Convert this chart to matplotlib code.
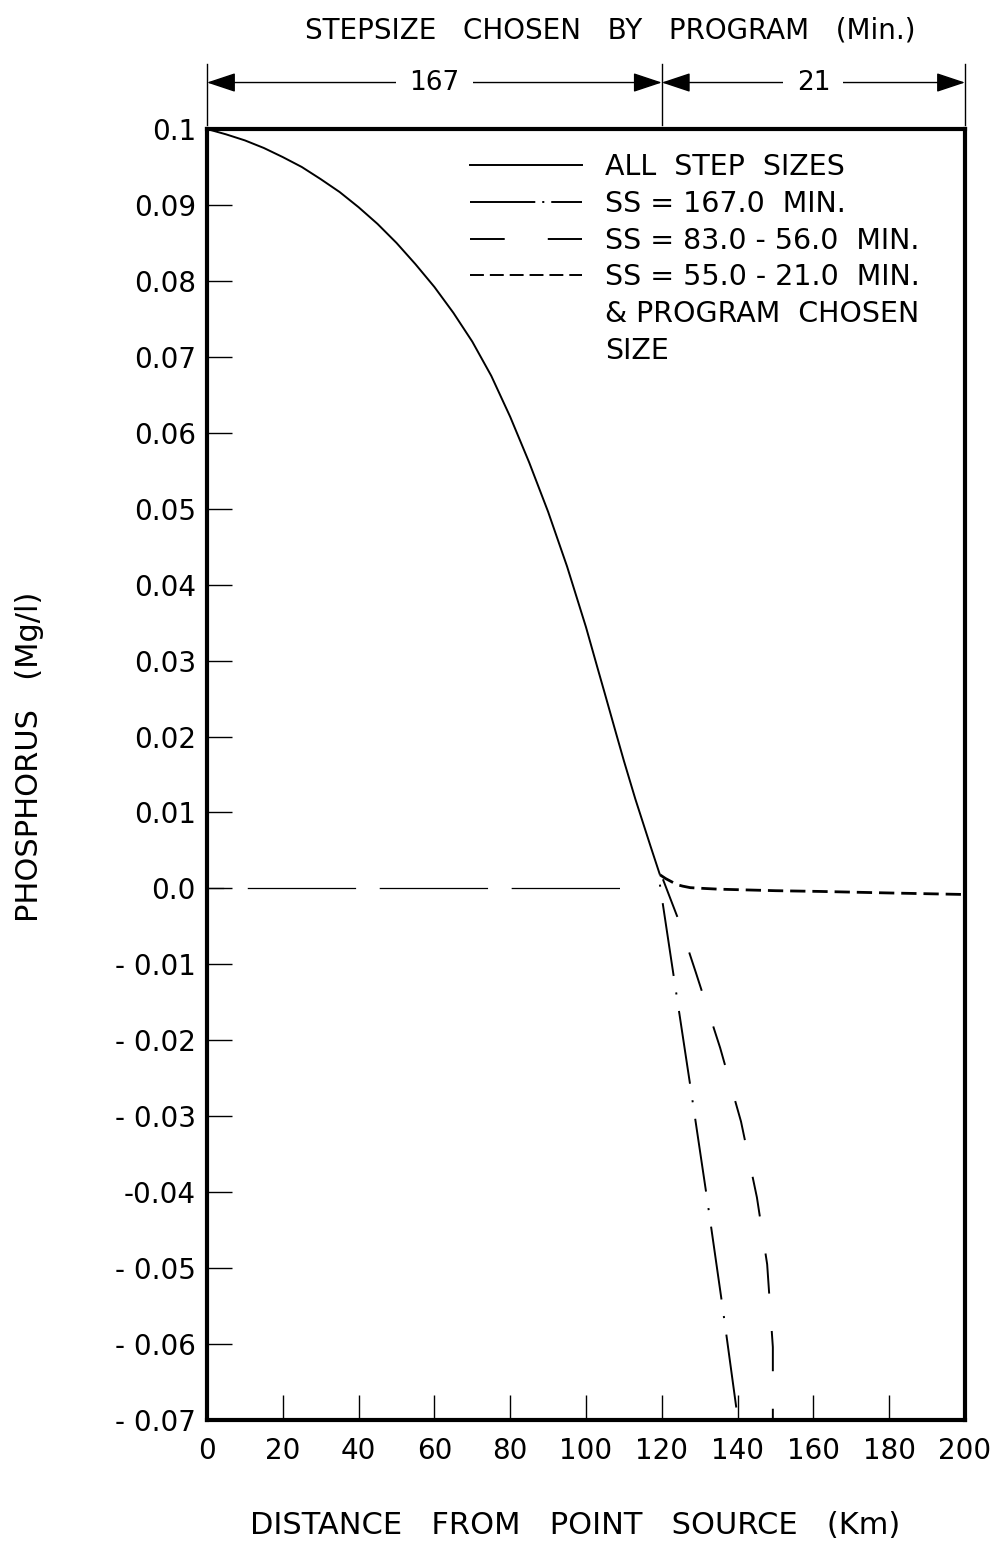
import matplotlib
matplotlib.use("Agg")
import matplotlib.pyplot as plt
from matplotlib.lines import Line2D
from matplotlib.transforms import blended_transform_factory

plt.rcParams['font.family'] = ['DejaVu Sans']
plt.rcParams['lines.scale_dashes'] = False

# All step sizes (solid curve), distance in km, phosphorus in mg/l
all_x = [0, 5, 10, 15, 20, 25, 30, 35, 40, 45, 50, 55, 60, 65, 70, 75, 80, 85, 90,
         95, 100, 103, 105, 108, 110, 113, 115, 117, 119.5]
all_y = [0.1, 0.0993, 0.0985, 0.0975, 0.0963, 0.0950, 0.0934, 0.0917, 0.0897, 0.0875,
         0.0850, 0.0822, 0.0792, 0.0758, 0.0720, 0.0675, 0.0621, 0.0561, 0.0496,
         0.0424, 0.0344, 0.0291, 0.0256, 0.0203, 0.0168, 0.0118, 0.0087, 0.0056, 0.0018]

# SS = 167.0 min (dash-dot)
ss167_x = [119.5, 123.0, 127.4, 131.9, 136.0, 140.1]
ss167_y = [0.0005, -0.0111, -0.0256, -0.0407, -0.0550, -0.0700]

# SS = 83.0 - 56.0 min (long dash)
ss83_x = [120.3, 124.3, 129.0, 135.4, 140.9, 145.1, 147.8, 149.3, 149.3]
ss83_y = [0.0012, -0.0040, -0.0111, -0.0210, -0.0307, -0.0407, -0.0495, -0.0604, -0.0700]

# SS = 55.0 - 21.0 min & program chosen size (short dash)
ss55_x = [119.5, 121.0, 122.5, 124.0, 125.5, 127.5, 131.0, 135.0, 150.0, 162.0, 180.0, 200.0]
ss55_y = [0.0018, 0.0013, 0.0009, 0.0005, 0.0003, 0.0001, 0.0, -0.0001, -0.0003,
          -0.0004, -0.0006, -0.0008]

# zero reference line
zero_x = [0, 114.2]
zero_y = [0, 0]

# step sizes chosen by program (top annotation)
step_edges = [0, 120, 200]
step_labels = ["167", "21"]

x_ticks = list(range(0, 201, 20))
y_ticks = [-0.07, -0.06, -0.05, -0.04, -0.03, -0.02, -0.01, 0.0,
           0.01, 0.02, 0.03, 0.04, 0.05, 0.06, 0.07, 0.08, 0.09, 0.1]
y_tick_labels = ["- 0.07", "- 0.06", "- 0.05", "-0.04", "- 0.03", "- 0.02", "- 0.01", "0.0",
                 "0.01", "0.02", "0.03", "0.04", "0.05", "0.06", "0.07", "0.08", "0.09", "0.1"]

fig = plt.figure(figsize=(10.02, 15.43), dpi=100)
ax = fig.add_axes([207 / 1002, 1 - 1420 / 1543, (965 - 207) / 1002, (1420 - 129) / 1543])

ax.plot(zero_x, zero_y, color='black', lw=0.9, linestyle=(66, (78, 17)))
ax.plot(all_x, all_y, color='black', lw=1.4, solid_capstyle='butt', solid_joinstyle='round')
ax.plot(ss167_x, ss167_y, color='black', lw=1.4, linestyle=(0, (1.5, 12, 53, 12)))
ax.plot(ss83_x, ss83_y, color='black', lw=1.4, linestyle=(0, (29, 27)))
ax.plot(ss55_x, ss55_y, color='black', lw=2.0, linestyle=(0, (11, 5)))

ax.set_xlim(0, 200)
ax.set_ylim(-0.07, 0.1)
ax.set_xticks(x_ticks)
ax.set_xticklabels([str(v) for v in x_ticks])
ax.set_yticks(y_ticks)
ax.set_yticklabels(y_tick_labels)
ax.tick_params(axis='both', direction='in', length=18, width=1, labelsize=20)
ax.tick_params(axis='x', pad=12)
ax.tick_params(axis='y', pad=8)
for sp in ax.spines.values():
    sp.set_linewidth(3)

# legend
handles = [
    Line2D([], [], color='black', lw=1.4),
    Line2D([], [], color='black', lw=1.4, linestyle=(0, (47, 5, 1.5, 5, 40, 10))),
    Line2D([], [], color='black', lw=1.4, linestyle=(0, (25, 31))),
    Line2D([], [], color='black', lw=1.4, linestyle=(0, (10, 4.3))),
    Line2D([], [], color='none'),
    Line2D([], [], color='none'),
]
labels = ["ALL  STEP  SIZES", "SS = 167.0  MIN.", "SS = 83.0 - 56.0  MIN.",
          "SS = 55.0 - 21.0  MIN.", "& PROGRAM  CHOSEN", "SIZE"]
ax.legend(handles, labels, loc='upper left', bbox_to_anchor=(0.347, 0.9815),
          frameon=False, fontsize=20.5, handlelength=3.95, handletextpad=0.78,
          labelspacing=0.31, borderpad=0, borderaxespad=0)

# top dimension arrows
trans = blended_transform_factory(ax.transData, ax.transAxes)
for xb in step_edges:
    ax.plot([xb, xb], [1.003, 1.05], transform=trans, color='black', lw=1, clip_on=False)
for a, b, lab in zip(step_edges[:-1], step_edges[1:], step_labels):
    ax.annotate('', xy=(a, 1.036), xytext=(b, 1.036), xycoords=trans, textcoords=trans,
                arrowprops=dict(arrowstyle='<|-|>,head_length=0.9,head_width=0.3',
                                color='black', lw=1, shrinkA=0, shrinkB=0,
                                mutation_scale=20),
                annotation_clip=False)
    ax.text((a + b) / 2, 1.036, lab, transform=trans, ha='center', va='center',
            fontsize=19, bbox=dict(boxstyle='square,pad=0.5', fc='white', ec='none'),
            clip_on=False)

ax.set_xlim(0, 200)
ax.set_ylim(-0.07, 0.1)

fig.text(610 / 1002, 1 - 30 / 1543, "STEPSIZE   CHOSEN   BY   PROGRAM   (Min.)",
         ha='center', va='center', fontsize=20)
fig.text(575 / 1002, 1 - 1525 / 1543, "DISTANCE   FROM   POINT   SOURCE   (Km)",
         ha='center', va='center', fontsize=22)
fig.text(30 / 1002, 1 - 757 / 1543, "PHOSPHORUS   (Mg/l)", rotation=90,
         ha='center', va='center', fontsize=22)

fig.savefig("out.png", dpi=100)
